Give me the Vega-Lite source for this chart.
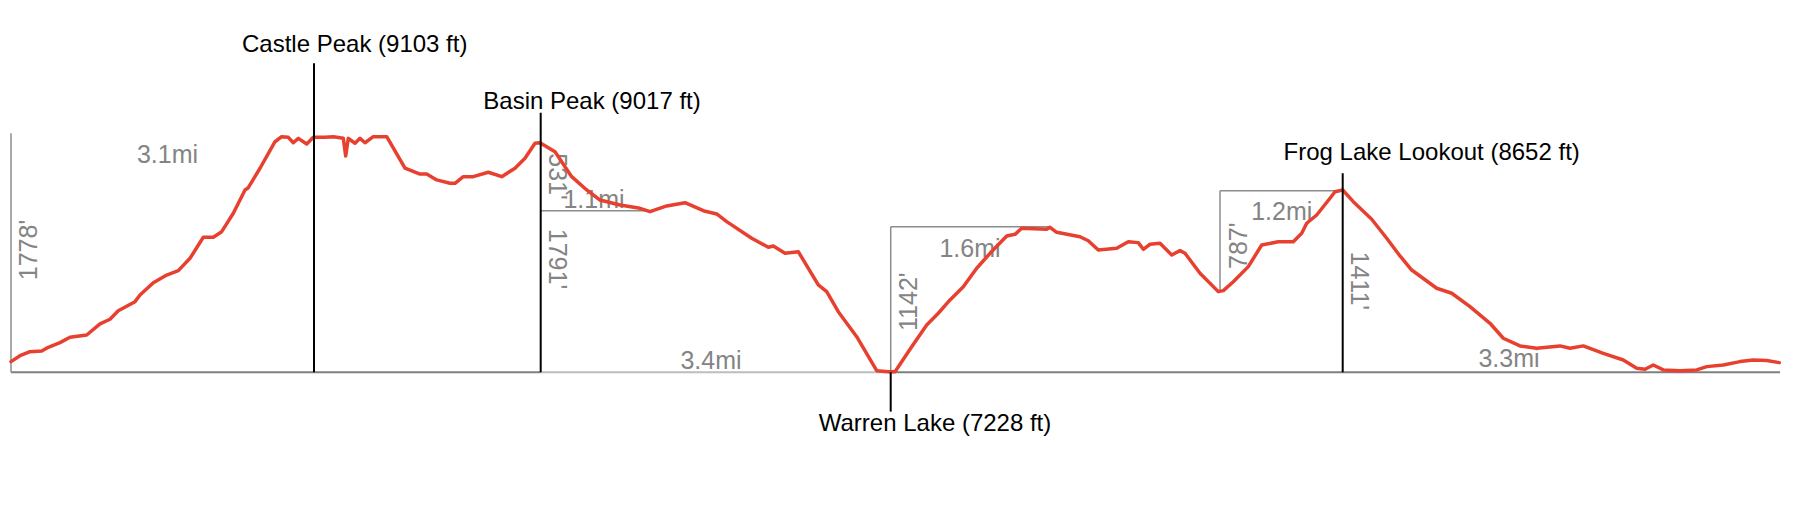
{
  "$schema": "https://vega.github.io/schema/vega-lite/v6.json",
  "width": 1796,
  "height": 511,
  "autosize": {"type": "fit", "contains": "padding"},
  "padding": 0,
  "background": "white",
  "config": {"view": {"stroke": null}},
  "datasets": {
    "profile": [
      {"mi": 0.00, "ft": 7313}, {"mi": 0.09, "ft": 7360}, {"mi": 0.19, "ft": 7392}, {"mi": 0.307, "ft": 7398},
      {"mi": 0.373, "ft": 7427}, {"mi": 0.49, "ft": 7464}, {"mi": 0.59, "ft": 7507}, {"mi": 0.757, "ft": 7525},
      {"mi": 0.89, "ft": 7613}, {"mi": 0.99, "ft": 7650}, {"mi": 1.073, "ft": 7718}, {"mi": 1.24, "ft": 7790},
      {"mi": 1.29, "ft": 7843}, {"mi": 1.423, "ft": 7941}, {"mi": 1.557, "ft": 8002}, {"mi": 1.673, "ft": 8037},
      {"mi": 1.79, "ft": 8135}, {"mi": 1.923, "ft": 8303}, {"mi": 2.023, "ft": 8303}, {"mi": 2.107, "ft": 8347},
      {"mi": 2.223, "ft": 8494}, {"mi": 2.34, "ft": 8679}, {"mi": 2.373, "ft": 8697}, {"mi": 2.49, "ft": 8852},
      {"mi": 2.64, "ft": 9063}, {"mi": 2.707, "ft": 9103}, {"mi": 2.773, "ft": 9098}, {"mi": 2.823, "ft": 9055},
      {"mi": 2.873, "ft": 9090}, {"mi": 2.957, "ft": 9045}, {"mi": 3.023, "ft": 9098}, {"mi": 3.14, "ft": 9098},
      {"mi": 3.223, "ft": 9103}, {"mi": 3.323, "ft": 9090}, {"mi": 3.347, "ft": 8950}, {"mi": 3.373, "ft": 9090},
      {"mi": 3.44, "ft": 9051}, {"mi": 3.49, "ft": 9090}, {"mi": 3.54, "ft": 9055}, {"mi": 3.623, "ft": 9103},
      {"mi": 3.757, "ft": 9103}, {"mi": 3.94, "ft": 8852}, {"mi": 4.09, "ft": 8806}, {"mi": 4.157, "ft": 8806},
      {"mi": 4.257, "ft": 8759}, {"mi": 4.39, "ft": 8732}, {"mi": 4.44, "ft": 8732}, {"mi": 4.523, "ft": 8785},
      {"mi": 4.623, "ft": 8785}, {"mi": 4.773, "ft": 8820}, {"mi": 4.907, "ft": 8785}, {"mi": 5.04, "ft": 8852},
      {"mi": 5.14, "ft": 8931}, {"mi": 5.24, "ft": 9051}, {"mi": 5.29, "ft": 9055}, {"mi": 5.44, "ft": 8984},
      {"mi": 5.607, "ft": 8785}, {"mi": 5.757, "ft": 8679}, {"mi": 5.89, "ft": 8599}, {"mi": 6.09, "ft": 8560},
      {"mi": 6.29, "ft": 8533}, {"mi": 6.39, "ft": 8506}, {"mi": 6.557, "ft": 8552}, {"mi": 6.74, "ft": 8578},
      {"mi": 6.923, "ft": 8514}, {"mi": 7.057, "ft": 8488}, {"mi": 7.157, "ft": 8427}, {"mi": 7.407, "ft": 8295},
      {"mi": 7.573, "ft": 8223}, {"mi": 7.623, "ft": 8233}, {"mi": 7.74, "ft": 8175}, {"mi": 7.873, "ft": 8188},
      {"mi": 8.073, "ft": 7923}, {"mi": 8.157, "ft": 7870}, {"mi": 8.273, "ft": 7710}, {"mi": 8.457, "ft": 7511},
      {"mi": 8.657, "ft": 7241}, {"mi": 8.773, "ft": 7233}, {"mi": 8.84, "ft": 7233}, {"mi": 9.007, "ft": 7432},
      {"mi": 9.157, "ft": 7605}, {"mi": 9.273, "ft": 7698}, {"mi": 9.39, "ft": 7804}, {"mi": 9.523, "ft": 7909},
      {"mi": 9.657, "ft": 8056}, {"mi": 9.79, "ft": 8175}, {"mi": 9.957, "ft": 8313}, {"mi": 10.04, "ft": 8326},
      {"mi": 10.107, "ft": 8374}, {"mi": 10.357, "ft": 8366}, {"mi": 10.39, "ft": 8382}, {"mi": 10.457, "ft": 8342},
      {"mi": 10.69, "ft": 8307}, {"mi": 10.773, "ft": 8275}, {"mi": 10.873, "ft": 8201}, {"mi": 11.057, "ft": 8215},
      {"mi": 11.173, "ft": 8267}, {"mi": 11.273, "ft": 8260}, {"mi": 11.323, "ft": 8207}, {"mi": 11.39, "ft": 8247},
      {"mi": 11.49, "ft": 8255}, {"mi": 11.607, "ft": 8162}, {"mi": 11.69, "ft": 8196}, {"mi": 11.74, "ft": 8175},
      {"mi": 11.89, "ft": 8016}, {"mi": 12.073, "ft": 7870}, {"mi": 12.123, "ft": 7878}, {"mi": 12.223, "ft": 7949},
      {"mi": 12.373, "ft": 8069}, {"mi": 12.507, "ft": 8241}, {"mi": 12.673, "ft": 8267}, {"mi": 12.823, "ft": 8267},
      {"mi": 12.907, "ft": 8334}, {"mi": 12.957, "ft": 8414}, {"mi": 13.057, "ft": 8480}, {"mi": 13.19, "ft": 8613},
      {"mi": 13.24, "ft": 8665}, {"mi": 13.317, "ft": 8679}, {"mi": 13.423, "ft": 8586}, {"mi": 13.607, "ft": 8446},
      {"mi": 13.757, "ft": 8295}, {"mi": 13.89, "ft": 8154}, {"mi": 14.007, "ft": 8042}, {"mi": 14.257, "ft": 7897},
      {"mi": 14.407, "ft": 7857}, {"mi": 14.59, "ft": 7750}, {"mi": 14.79, "ft": 7618}, {"mi": 14.923, "ft": 7499},
      {"mi": 15.09, "ft": 7438}, {"mi": 15.257, "ft": 7419}, {"mi": 15.49, "ft": 7438}, {"mi": 15.59, "ft": 7419},
      {"mi": 15.723, "ft": 7438}, {"mi": 15.923, "ft": 7379}, {"mi": 16.123, "ft": 7326}, {"mi": 16.257, "ft": 7260},
      {"mi": 16.34, "ft": 7252}, {"mi": 16.423, "ft": 7286}, {"mi": 16.523, "ft": 7247}, {"mi": 16.69, "ft": 7241},
      {"mi": 16.857, "ft": 7247}, {"mi": 16.957, "ft": 7273}, {"mi": 17.123, "ft": 7286}, {"mi": 17.29, "ft": 7313},
      {"mi": 17.423, "ft": 7326}, {"mi": 17.557, "ft": 7321}, {"mi": 17.683, "ft": 7305}
    ],
    "baseline": [
      {"mi": 0, "mi2": 5.297, "ft": 7228, "tone": "dark"},
      {"mi": 5.297, "mi2": 8.797, "ft": 7228, "tone": "light"},
      {"mi": 8.797, "mi2": 17.69, "ft": 7228, "tone": "dark"}
    ],
    "grayV": [
      {"mi": 0, "ft": 7228, "ft2": 9130},
      {"mi": 8.797, "ft": 7228, "ft2": 8387},
      {"mi": 12.09, "ft": 7870, "ft2": 8673}
    ],
    "grayH": [
      {"mi": 5.297, "mi2": 6.39, "ft": 8514},
      {"mi": 8.797, "mi2": 10.39, "ft": 8387},
      {"mi": 12.09, "mi2": 13.317, "ft": 8673}
    ],
    "peaks": [
      {"name": "Castle Peak (9103 ft)", "mi": 3.03, "ft": 7228, "ft2": 9687, "lmi": 3.437, "lft": 9775},
      {"name": "Basin Peak (9017 ft)", "mi": 5.297, "ft": 7228, "ft2": 9294, "lmi": 5.81, "lft": 9321},
      {"name": "Warren Lake (7228 ft)", "mi": 8.797, "ft": 6915, "ft2": 7228, "lmi": 9.24, "lft": 6763},
      {"name": "Frog Lake Lookout (8652 ft)", "mi": 13.317, "ft": 7228, "ft2": 8812, "lmi": 14.207, "lft": 8918}
    ],
    "dist": [
      {"t": "3.1mi", "mi": 1.565, "ft": 8891},
      {"t": "1.1mi", "mi": 5.83, "ft": 8533},
      {"t": "3.4mi", "mi": 7.0, "ft": 7252},
      {"t": "1.6mi", "mi": 9.59, "ft": 8143},
      {"t": "1.2mi", "mi": 12.707, "ft": 8440},
      {"t": "3.3mi", "mi": 14.98, "ft": 7268}
    ],
    "climbUp": [
      {"t": "1778'", "mi": 0.257, "ft": 8201},
      {"t": "1142'", "mi": 9.057, "ft": 7790},
      {"t": "787'", "mi": 12.357, "ft": 8235}
    ],
    "climbDown": [
      {"t": "531'", "mi": 5.38, "ft": 8786},
      {"t": "1791'", "mi": 5.38, "ft": 8130},
      {"t": "1411'", "mi": 13.40, "ft": 7956}
    ]
  },
  "encoding": {
    "x": {"type": "quantitative", "scale": {"domain": [-0.11, 17.85], "nice": false, "zero": false}, "axis": null},
    "y": {"type": "quantitative", "scale": {"domain": [6124, 10191], "nice": false, "zero": false}, "axis": null}
  },
  "layer": [
    {
      "data": {"name": "baseline"},
      "mark": {"type": "rule", "strokeWidth": 2},
      "encoding": {
        "x": {"field": "mi", "type": "quantitative"},
        "x2": {"field": "mi2"},
        "y": {"field": "ft", "type": "quantitative"},
        "color": {"field": "tone", "type": "nominal", "scale": {"domain": ["dark", "light"], "range": ["#7f7f7f", "#bdbdbd"]}, "legend": null}
      }
    },
    {
      "data": {"name": "grayV"},
      "mark": {"type": "rule", "strokeWidth": 1.5, "color": "#8c8c8c"},
      "encoding": {
        "x": {"field": "mi", "type": "quantitative"},
        "y": {"field": "ft", "type": "quantitative"},
        "y2": {"field": "ft2"}
      }
    },
    {
      "data": {"name": "grayH"},
      "mark": {"type": "rule", "strokeWidth": 1.5, "color": "#8c8c8c"},
      "encoding": {
        "x": {"field": "mi", "type": "quantitative"},
        "x2": {"field": "mi2"},
        "y": {"field": "ft", "type": "quantitative"}
      }
    },
    {
      "data": {"name": "dist"},
      "mark": {"type": "text", "font": "Liberation Sans", "fontSize": 25, "color": "#848484", "align": "center", "baseline": "alphabetic"},
      "encoding": {
        "x": {"field": "mi", "type": "quantitative"},
        "y": {"field": "ft", "type": "quantitative"},
        "text": {"field": "t"}
      }
    },
    {
      "data": {"name": "climbUp"},
      "mark": {"type": "text", "font": "Liberation Sans", "fontSize": 25, "color": "#848484", "align": "center", "baseline": "alphabetic", "angle": 270},
      "encoding": {
        "x": {"field": "mi", "type": "quantitative"},
        "y": {"field": "ft", "type": "quantitative"},
        "text": {"field": "t"}
      }
    },
    {
      "data": {"name": "climbDown"},
      "mark": {"type": "text", "font": "Liberation Sans", "fontSize": 25, "color": "#848484", "align": "center", "baseline": "alphabetic", "angle": 90},
      "encoding": {
        "x": {"field": "mi", "type": "quantitative"},
        "y": {"field": "ft", "type": "quantitative"},
        "text": {"field": "t"}
      }
    },
    {
      "data": {"name": "profile"},
      "mark": {"type": "line", "color": "#e8402f", "strokeWidth": 3.5, "strokeJoin": "round", "strokeCap": "round"},
      "encoding": {
        "x": {"field": "mi", "type": "quantitative"},
        "y": {"field": "ft", "type": "quantitative"}
      }
    },
    {
      "data": {"name": "peaks"},
      "mark": {"type": "rule", "strokeWidth": 2, "color": "#000000"},
      "encoding": {
        "x": {"field": "mi", "type": "quantitative"},
        "y": {"field": "ft", "type": "quantitative"},
        "y2": {"field": "ft2"}
      }
    },
    {
      "data": {"name": "peaks"},
      "mark": {"type": "text", "font": "Liberation Sans", "fontSize": 24, "color": "#000000", "align": "center", "baseline": "alphabetic"},
      "encoding": {
        "x": {"field": "lmi", "type": "quantitative"},
        "y": {"field": "lft", "type": "quantitative"},
        "text": {"field": "name"}
      }
    }
  ]
}
